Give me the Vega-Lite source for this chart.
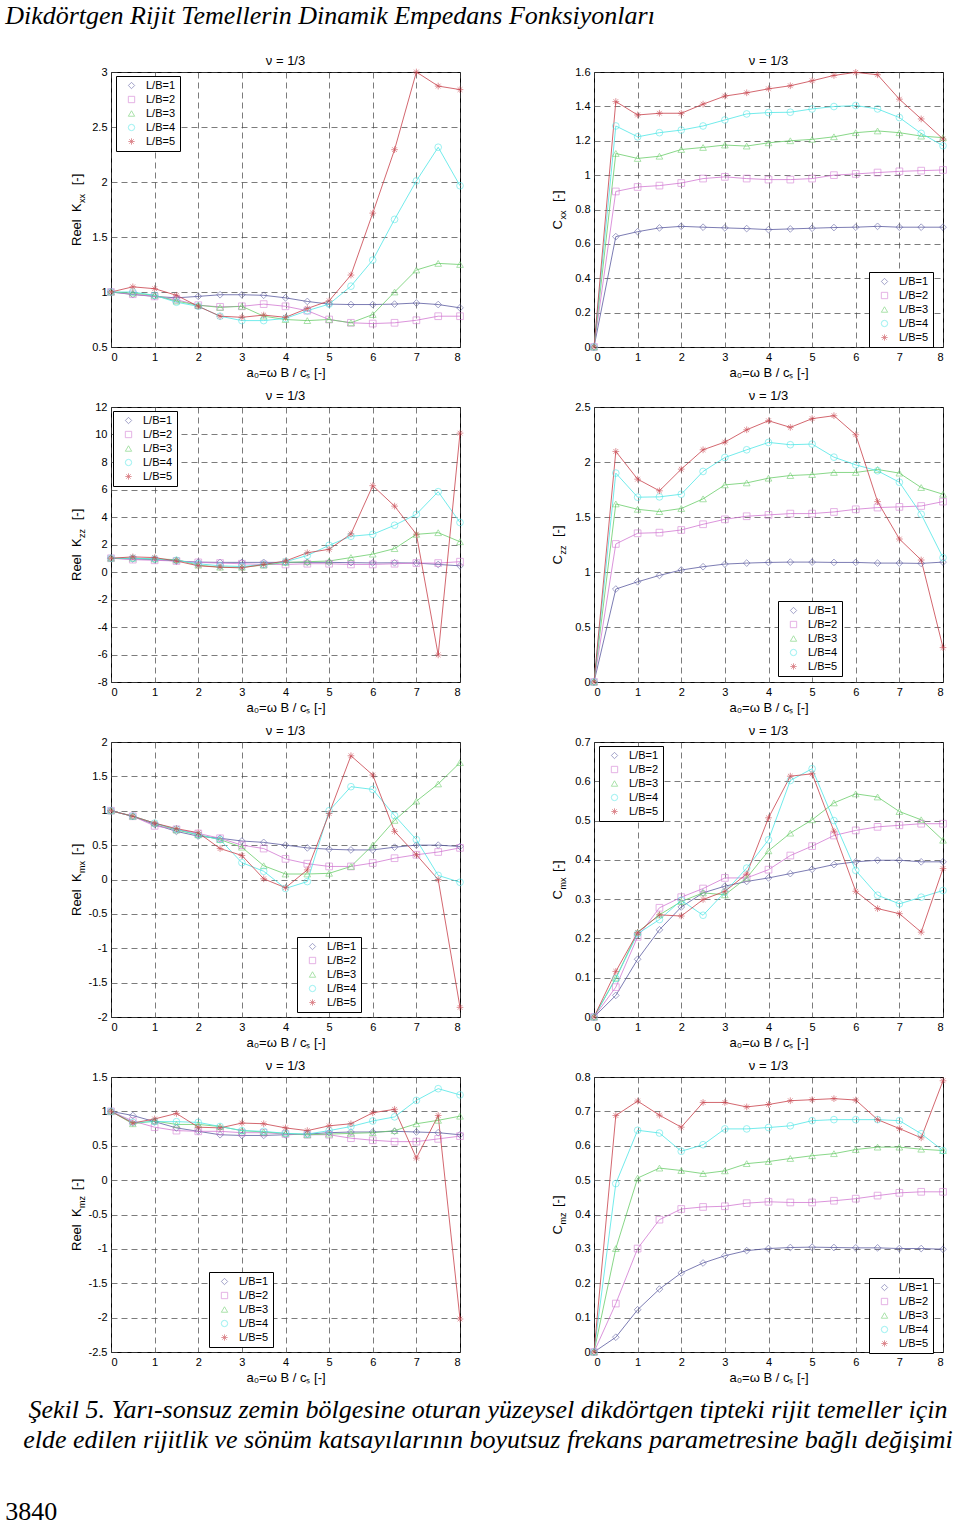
{
"$schema": "https://vega.github.io/schema/vega-lite/v6.json",
"background": "white",
"padding": {"left": 5, "top": 2, "right": 5, "bottom": 0},
"title": {"text": "Dikdörtgen Rijit Temellerin Dinamik Empedans Fonksiyonları", "font": "Liberation Serif", "fontStyle": "italic", "fontSize": 26, "fontWeight": "normal", "color": "black", "anchor": "start", "frame": "bounds", "dx": 0, "offset": 26},
"config": {
  "font": "Liberation Sans",
  "view": {"stroke": "black", "strokeWidth": 1},
  "axis": {"labelFont": "Liberation Sans", "labelFontSize": 11, "labelColor": "black", "titleFont": "Liberation Sans", "titleFontSize": 13, "titleFontWeight": "normal", "titleColor": "black", "gridColor": "#444444", "gridDash": [6, 4], "gridWidth": 0.7, "gridOpacity": 1, "domain": false, "ticks": false, "labelPadding": 4, "titlePadding": 4},
  "title": {"font": "Liberation Sans", "fontSize": 13, "fontWeight": "normal", "color": "black", "offset": -2},
  "legend": {"strokeColor": "black", "fillColor": "white", "padding": 4, "labelFont": "Liberation Sans", "labelFontSize": 11, "labelColor": "black", "symbolStrokeWidth": 0.8, "symbolSize": 40, "rowPadding": 2, "symbolOffset": 6, "labelOffset": 9, "cornerRadius": 0}
},
"datasets": {"d": [
{"p":"Kxx","a":0,"L/B=1":1,"L/B=2":1,"L/B=3":1,"L/B=4":1,"L/B=5":1},
{"p":"Kxx","a":0.5,"L/B=1":0.977,"L/B=2":0.98,"L/B=3":0.99,"L/B=4":1.0,"L/B=5":1.047},
{"p":"Kxx","a":1,"L/B=1":0.96,"L/B=2":0.96,"L/B=3":0.97,"L/B=4":0.97,"L/B=5":1.03},
{"p":"Kxx","a":1.5,"L/B=1":0.947,"L/B=2":0.93,"L/B=3":0.917,"L/B=4":0.907,"L/B=5":0.97},
{"p":"Kxx","a":2,"L/B=1":0.96,"L/B=2":0.88,"L/B=3":0.88,"L/B=4":0.87,"L/B=5":0.87},
{"p":"Kxx","a":2.5,"L/B=1":0.975,"L/B=2":0.865,"L/B=3":0.86,"L/B=4":0.78,"L/B=5":0.78},
{"p":"Kxx","a":3,"L/B=1":0.975,"L/B=2":0.87,"L/B=3":0.87,"L/B=4":0.74,"L/B=5":0.77},
{"p":"Kxx","a":3.5,"L/B=1":0.97,"L/B=2":0.89,"L/B=3":0.78,"L/B=4":0.74,"L/B=5":0.79},
{"p":"Kxx","a":4,"L/B=1":0.947,"L/B=2":0.87,"L/B=3":0.75,"L/B=4":0.76,"L/B=5":0.77},
{"p":"Kxx","a":4.5,"L/B=1":0.914,"L/B=2":0.83,"L/B=3":0.74,"L/B=4":0.83,"L/B=5":0.85},
{"p":"Kxx","a":5,"L/B=1":0.89,"L/B=2":0.75,"L/B=3":0.75,"L/B=4":0.89,"L/B=5":0.92},
{"p":"Kxx","a":5.5,"L/B=1":0.886,"L/B=2":0.72,"L/B=3":0.72,"L/B=4":1.053,"L/B=5":1.154},
{"p":"Kxx","a":6,"L/B=1":0.886,"L/B=2":0.713,"L/B=3":0.795,"L/B=4":1.29,"L/B=5":1.717},
{"p":"Kxx","a":6.5,"L/B=1":0.89,"L/B=2":0.72,"L/B=3":1.0,"L/B=4":1.66,"L/B=5":2.294},
{"p":"Kxx","a":7,"L/B=1":0.9,"L/B=2":0.743,"L/B=3":1.2,"L/B=4":2.01,"L/B=5":3.0},
{"p":"Kxx","a":7.5,"L/B=1":0.886,"L/B=2":0.78,"L/B=3":1.26,"L/B=4":2.316,"L/B=5":2.872},
{"p":"Kxx","a":8,"L/B=1":0.856,"L/B=2":0.78,"L/B=3":1.25,"L/B=4":1.966,"L/B=5":2.84},
{"p":"Cxx","a":0,"L/B=1":0,"L/B=2":0,"L/B=3":0,"L/B=4":0,"L/B=5":0},
{"p":"Cxx","a":0.5,"L/B=1":0.642,"L/B=2":0.905,"L/B=3":1.126,"L/B=4":1.286,"L/B=5":1.428},
{"p":"Cxx","a":1,"L/B=1":0.671,"L/B=2":0.931,"L/B=3":1.097,"L/B=4":1.223,"L/B=5":1.35},
{"p":"Cxx","a":1.5,"L/B=1":0.693,"L/B=2":0.939,"L/B=3":1.11,"L/B=4":1.247,"L/B=5":1.36},
{"p":"Cxx","a":2,"L/B=1":0.702,"L/B=2":0.954,"L/B=3":1.149,"L/B=4":1.262,"L/B=5":1.36},
{"p":"Cxx","a":2.5,"L/B=1":0.697,"L/B=2":0.98,"L/B=3":1.161,"L/B=4":1.286,"L/B=5":1.413},
{"p":"Cxx","a":3,"L/B=1":0.693,"L/B=2":0.99,"L/B=3":1.175,"L/B=4":1.321,"L/B=5":1.46},
{"p":"Cxx","a":3.5,"L/B=1":0.689,"L/B=2":0.98,"L/B=3":1.169,"L/B=4":1.356,"L/B=5":1.479},
{"p":"Cxx","a":4,"L/B=1":0.683,"L/B=2":0.974,"L/B=3":1.188,"L/B=4":1.364,"L/B=5":1.502},
{"p":"Cxx","a":4.5,"L/B=1":0.687,"L/B=2":0.974,"L/B=3":1.2,"L/B=4":1.366,"L/B=5":1.52},
{"p":"Cxx","a":5,"L/B=1":0.691,"L/B=2":0.98,"L/B=3":1.208,"L/B=4":1.385,"L/B=5":1.549},
{"p":"Cxx","a":5.5,"L/B=1":0.695,"L/B=2":1.0,"L/B=3":1.223,"L/B=4":1.399,"L/B=5":1.58},
{"p":"Cxx","a":6,"L/B=1":0.697,"L/B=2":1.007,"L/B=3":1.247,"L/B=4":1.405,"L/B=5":1.598},
{"p":"Cxx","a":6.5,"L/B=1":0.702,"L/B=2":1.015,"L/B=3":1.257,"L/B=4":1.385,"L/B=5":1.584},
{"p":"Cxx","a":7,"L/B=1":0.697,"L/B=2":1.022,"L/B=3":1.247,"L/B=4":1.335,"L/B=5":1.442},
{"p":"Cxx","a":7.5,"L/B=1":0.697,"L/B=2":1.026,"L/B=3":1.227,"L/B=4":1.243,"L/B=5":1.327},
{"p":"Cxx","a":8,"L/B=1":0.697,"L/B=2":1.03,"L/B=3":1.218,"L/B=4":1.171,"L/B=5":1.21},
{"p":"Kzz","a":0,"L/B=1":1,"L/B=2":1,"L/B=3":1,"L/B=4":1,"L/B=5":1},
{"p":"Kzz","a":0.5,"L/B=1":0.95,"L/B=2":0.9,"L/B=3":1.0,"L/B=4":1.0,"L/B=5":1.1},
{"p":"Kzz","a":1,"L/B=1":0.9,"L/B=2":0.85,"L/B=3":0.95,"L/B=4":0.95,"L/B=5":1.05},
{"p":"Kzz","a":1.5,"L/B=1":0.8,"L/B=2":0.8,"L/B=3":0.9,"L/B=4":0.85,"L/B=5":0.8},
{"p":"Kzz","a":2,"L/B=1":0.72,"L/B=2":0.7,"L/B=3":0.5,"L/B=4":0.6,"L/B=5":0.45},
{"p":"Kzz","a":2.5,"L/B=1":0.7,"L/B=2":0.65,"L/B=3":0.35,"L/B=4":0.45,"L/B=5":0.35},
{"p":"Kzz","a":3,"L/B=1":0.7,"L/B=2":0.6,"L/B=3":0.35,"L/B=4":0.4,"L/B=5":0.3},
{"p":"Kzz","a":3.5,"L/B=1":0.7,"L/B=2":0.55,"L/B=3":0.5,"L/B=4":0.55,"L/B=5":0.55},
{"p":"Kzz","a":4,"L/B=1":0.7,"L/B=2":0.55,"L/B=3":0.7,"L/B=4":0.75,"L/B=5":0.8},
{"p":"Kzz","a":4.5,"L/B=1":0.7,"L/B=2":0.6,"L/B=3":0.75,"L/B=4":1.2,"L/B=5":1.4},
{"p":"Kzz","a":5,"L/B=1":0.7,"L/B=2":0.6,"L/B=3":0.8,"L/B=4":1.94,"L/B=5":1.65},
{"p":"Kzz","a":5.5,"L/B=1":0.68,"L/B=2":0.55,"L/B=3":1.05,"L/B=4":2.6,"L/B=5":2.77},
{"p":"Kzz","a":6,"L/B=1":0.66,"L/B=2":0.55,"L/B=3":1.3,"L/B=4":2.74,"L/B=5":6.28},
{"p":"Kzz","a":6.5,"L/B=1":0.67,"L/B=2":0.6,"L/B=3":1.7,"L/B=4":3.4,"L/B=5":4.79},
{"p":"Kzz","a":7,"L/B=1":0.65,"L/B=2":0.65,"L/B=3":2.74,"L/B=4":4.2,"L/B=5":2.75},
{"p":"Kzz","a":7.5,"L/B=1":0.55,"L/B=2":0.65,"L/B=3":2.86,"L/B=4":5.84,"L/B=5":-6.03},
{"p":"Kzz","a":8,"L/B=1":0.45,"L/B=2":0.75,"L/B=3":2.2,"L/B=4":3.6,"L/B=5":10.1},
{"p":"Czz","a":0,"L/B=1":0,"L/B=2":0,"L/B=3":0,"L/B=4":0,"L/B=5":0},
{"p":"Czz","a":0.5,"L/B=1":0.845,"L/B=2":1.255,"L/B=3":1.619,"L/B=4":1.899,"L/B=5":2.096},
{"p":"Czz","a":1,"L/B=1":0.911,"L/B=2":1.352,"L/B=3":1.57,"L/B=4":1.68,"L/B=5":1.844},
{"p":"Czz","a":1.5,"L/B=1":0.969,"L/B=2":1.358,"L/B=3":1.549,"L/B=4":1.683,"L/B=5":1.738},
{"p":"Czz","a":2,"L/B=1":1.018,"L/B=2":1.382,"L/B=3":1.577,"L/B=4":1.707,"L/B=5":1.935},
{"p":"Czz","a":2.5,"L/B=1":1.048,"L/B=2":1.434,"L/B=3":1.665,"L/B=4":1.914,"L/B=5":2.111},
{"p":"Czz","a":3,"L/B=1":1.072,"L/B=2":1.479,"L/B=3":1.792,"L/B=4":2.041,"L/B=5":2.181},
{"p":"Czz","a":3.5,"L/B=1":1.081,"L/B=2":1.507,"L/B=3":1.81,"L/B=4":2.111,"L/B=5":2.293},
{"p":"Czz","a":4,"L/B=1":1.087,"L/B=2":1.519,"L/B=3":1.853,"L/B=4":2.178,"L/B=5":2.375},
{"p":"Czz","a":4.5,"L/B=1":1.09,"L/B=2":1.531,"L/B=3":1.877,"L/B=4":2.157,"L/B=5":2.315},
{"p":"Czz","a":5,"L/B=1":1.09,"L/B=2":1.531,"L/B=3":1.886,"L/B=4":2.163,"L/B=5":2.394},
{"p":"Czz","a":5.5,"L/B=1":1.087,"L/B=2":1.546,"L/B=3":1.905,"L/B=4":2.044,"L/B=5":2.421},
{"p":"Czz","a":6,"L/B=1":1.087,"L/B=2":1.57,"L/B=3":1.905,"L/B=4":1.974,"L/B=5":2.248},
{"p":"Czz","a":6.5,"L/B=1":1.081,"L/B=2":1.586,"L/B=3":1.932,"L/B=4":1.92,"L/B=5":1.64},
{"p":"Czz","a":7,"L/B=1":1.081,"L/B=2":1.592,"L/B=3":1.899,"L/B=4":1.816,"L/B=5":1.3},
{"p":"Czz","a":7.5,"L/B=1":1.078,"L/B=2":1.6,"L/B=3":1.768,"L/B=4":1.525,"L/B=5":1.109},
{"p":"Czz","a":8,"L/B=1":1.09,"L/B=2":1.64,"L/B=3":1.707,"L/B=4":1.13,"L/B=5":0.313},
{"p":"Kmx","a":0,"L/B=1":1,"L/B=2":1,"L/B=3":1,"L/B=4":1,"L/B=5":1},
{"p":"Kmx","a":0.5,"L/B=1":0.92,"L/B=2":0.92,"L/B=3":0.92,"L/B=4":0.92,"L/B=5":0.92},
{"p":"Kmx","a":1,"L/B=1":0.8,"L/B=2":0.78,"L/B=3":0.82,"L/B=4":0.82,"L/B=5":0.82},
{"p":"Kmx","a":1.5,"L/B=1":0.7,"L/B=2":0.73,"L/B=3":0.72,"L/B=4":0.73,"L/B=5":0.74},
{"p":"Kmx","a":2,"L/B=1":0.63,"L/B=2":0.67,"L/B=3":0.65,"L/B=4":0.65,"L/B=5":0.68},
{"p":"Kmx","a":2.5,"L/B=1":0.6,"L/B=2":0.6,"L/B=3":0.58,"L/B=4":0.58,"L/B=5":0.45},
{"p":"Kmx","a":3,"L/B=1":0.56,"L/B=2":0.5,"L/B=3":0.47,"L/B=4":0.245,"L/B=5":0.35},
{"p":"Kmx","a":3.5,"L/B=1":0.54,"L/B=2":0.45,"L/B=3":0.2,"L/B=4":0.12,"L/B=5":0.01},
{"p":"Kmx","a":4,"L/B=1":0.5,"L/B=2":0.3,"L/B=3":0.08,"L/B=4":-0.13,"L/B=5":-0.12},
{"p":"Kmx","a":4.5,"L/B=1":0.46,"L/B=2":0.23,"L/B=3":0.08,"L/B=4":-0.03,"L/B=5":0.14},
{"p":"Kmx","a":5,"L/B=1":0.44,"L/B=2":0.19,"L/B=3":0.09,"L/B=4":1.0,"L/B=5":0.96},
{"p":"Kmx","a":5.5,"L/B=1":0.43,"L/B=2":0.19,"L/B=3":0.19,"L/B=4":1.35,"L/B=5":1.8},
{"p":"Kmx","a":6,"L/B=1":0.43,"L/B=2":0.24,"L/B=3":0.5,"L/B=4":1.31,"L/B=5":1.52},
{"p":"Kmx","a":6.5,"L/B=1":0.47,"L/B=2":0.31,"L/B=3":0.86,"L/B=4":0.93,"L/B=5":0.7},
{"p":"Kmx","a":7,"L/B=1":0.5,"L/B=2":0.36,"L/B=3":1.14,"L/B=4":0.58,"L/B=5":0.36},
{"p":"Kmx","a":7.5,"L/B=1":0.5,"L/B=2":0.4,"L/B=3":1.39,"L/B=4":0.06,"L/B=5":0.0},
{"p":"Kmx","a":8,"L/B=1":0.48,"L/B=2":0.46,"L/B=3":1.7,"L/B=4":-0.04,"L/B=5":-1.86},
{"p":"Cmx","a":0,"L/B=1":0,"L/B=2":0,"L/B=3":0,"L/B=4":0,"L/B=5":0},
{"p":"Cmx","a":0.5,"L/B=1":0.055,"L/B=2":0.076,"L/B=3":0.099,"L/B=4":0.098,"L/B=5":0.116},
{"p":"Cmx","a":1,"L/B=1":0.147,"L/B=2":0.204,"L/B=3":0.216,"L/B=4":0.212,"L/B=5":0.215},
{"p":"Cmx","a":1.5,"L/B=1":0.222,"L/B=2":0.278,"L/B=3":0.26,"L/B=4":0.248,"L/B=5":0.26},
{"p":"Cmx","a":2,"L/B=1":0.28,"L/B=2":0.305,"L/B=3":0.294,"L/B=4":0.297,"L/B=5":0.257},
{"p":"Cmx","a":2.5,"L/B=1":0.316,"L/B=2":0.327,"L/B=3":0.316,"L/B=4":0.259,"L/B=5":0.299},
{"p":"Cmx","a":3,"L/B=1":0.333,"L/B=2":0.354,"L/B=3":0.311,"L/B=4":0.318,"L/B=5":0.32},
{"p":"Cmx","a":3.5,"L/B=1":0.345,"L/B=2":0.354,"L/B=3":0.354,"L/B=4":0.379,"L/B=5":0.364},
{"p":"Cmx","a":4,"L/B=1":0.354,"L/B=2":0.375,"L/B=3":0.423,"L/B=4":0.451,"L/B=5":0.507},
{"p":"Cmx","a":4.5,"L/B=1":0.365,"L/B=2":0.411,"L/B=3":0.468,"L/B=4":0.602,"L/B=5":0.613},
{"p":"Cmx","a":5,"L/B=1":0.376,"L/B=2":0.435,"L/B=3":0.502,"L/B=4":0.632,"L/B=5":0.619},
{"p":"Cmx","a":5.5,"L/B=1":0.388,"L/B=2":0.462,"L/B=3":0.545,"L/B=4":0.5,"L/B=5":0.473},
{"p":"Cmx","a":6,"L/B=1":0.395,"L/B=2":0.475,"L/B=3":0.568,"L/B=4":0.373,"L/B=5":0.32},
{"p":"Cmx","a":6.5,"L/B=1":0.399,"L/B=2":0.484,"L/B=3":0.56,"L/B=4":0.31,"L/B=5":0.276},
{"p":"Cmx","a":7,"L/B=1":0.399,"L/B=2":0.488,"L/B=3":0.523,"L/B=4":0.288,"L/B=5":0.263},
{"p":"Cmx","a":7.5,"L/B=1":0.395,"L/B=2":0.492,"L/B=3":0.502,"L/B=4":0.305,"L/B=5":0.216},
{"p":"Cmx","a":8,"L/B=1":0.395,"L/B=2":0.492,"L/B=3":0.45,"L/B=4":0.322,"L/B=5":0.378},
{"p":"Kmz","a":0,"L/B=1":1,"L/B=2":1,"L/B=3":1,"L/B=4":1,"L/B=5":1},
{"p":"Kmz","a":0.5,"L/B=1":0.94,"L/B=2":0.86,"L/B=3":0.82,"L/B=4":0.84,"L/B=5":0.83},
{"p":"Kmz","a":1,"L/B=1":0.85,"L/B=2":0.77,"L/B=3":0.86,"L/B=4":0.85,"L/B=5":0.89},
{"p":"Kmz","a":1.5,"L/B=1":0.76,"L/B=2":0.72,"L/B=3":0.81,"L/B=4":0.85,"L/B=5":0.97},
{"p":"Kmz","a":2,"L/B=1":0.71,"L/B=2":0.71,"L/B=3":0.81,"L/B=4":0.84,"L/B=5":0.77},
{"p":"Kmz","a":2.5,"L/B=1":0.66,"L/B=2":0.71,"L/B=3":0.78,"L/B=4":0.78,"L/B=5":0.76},
{"p":"Kmz","a":3,"L/B=1":0.65,"L/B=2":0.69,"L/B=3":0.72,"L/B=4":0.72,"L/B=5":0.83},
{"p":"Kmz","a":3.5,"L/B=1":0.65,"L/B=2":0.69,"L/B=3":0.7,"L/B=4":0.71,"L/B=5":0.82},
{"p":"Kmz","a":4,"L/B=1":0.66,"L/B=2":0.67,"L/B=3":0.68,"L/B=4":0.68,"L/B=5":0.76},
{"p":"Kmz","a":4.5,"L/B=1":0.67,"L/B=2":0.66,"L/B=3":0.66,"L/B=4":0.67,"L/B=5":0.72},
{"p":"Kmz","a":5,"L/B=1":0.69,"L/B=2":0.66,"L/B=3":0.67,"L/B=4":0.72,"L/B=5":0.79},
{"p":"Kmz","a":5.5,"L/B=1":0.7,"L/B=2":0.61,"L/B=3":0.68,"L/B=4":0.78,"L/B=5":0.82},
{"p":"Kmz","a":6,"L/B=1":0.7,"L/B=2":0.58,"L/B=3":0.69,"L/B=4":0.86,"L/B=5":0.98},
{"p":"Kmz","a":6.5,"L/B=1":0.71,"L/B=2":0.56,"L/B=3":0.72,"L/B=4":0.92,"L/B=5":1.03},
{"p":"Kmz","a":7,"L/B=1":0.7,"L/B=2":0.56,"L/B=3":0.82,"L/B=4":1.16,"L/B=5":0.32},
{"p":"Kmz","a":7.5,"L/B=1":0.69,"L/B=2":0.6,"L/B=3":0.87,"L/B=4":1.33,"L/B=5":0.94},
{"p":"Kmz","a":8,"L/B=1":0.66,"L/B=2":0.64,"L/B=3":0.93,"L/B=4":1.24,"L/B=5":-2.02},
{"p":"Cmz","a":0,"L/B=1":0,"L/B=2":0,"L/B=3":0,"L/B=4":0,"L/B=5":0},
{"p":"Cmz","a":0.5,"L/B=1":0.043,"L/B=2":0.141,"L/B=3":0.301,"L/B=4":0.49,"L/B=5":0.688},
{"p":"Cmz","a":1,"L/B=1":0.123,"L/B=2":0.301,"L/B=3":0.506,"L/B=4":0.645,"L/B=5":0.73},
{"p":"Cmz","a":1.5,"L/B=1":0.183,"L/B=2":0.385,"L/B=3":0.535,"L/B=4":0.637,"L/B=5":0.689},
{"p":"Cmz","a":2,"L/B=1":0.23,"L/B=2":0.416,"L/B=3":0.528,"L/B=4":0.584,"L/B=5":0.654},
{"p":"Cmz","a":2.5,"L/B=1":0.259,"L/B=2":0.422,"L/B=3":0.519,"L/B=4":0.603,"L/B=5":0.726},
{"p":"Cmz","a":3,"L/B=1":0.28,"L/B=2":0.424,"L/B=3":0.527,"L/B=4":0.649,"L/B=5":0.726},
{"p":"Cmz","a":3.5,"L/B=1":0.295,"L/B=2":0.433,"L/B=3":0.548,"L/B=4":0.649,"L/B=5":0.713},
{"p":"Cmz","a":4,"L/B=1":0.301,"L/B=2":0.437,"L/B=3":0.554,"L/B=4":0.653,"L/B=5":0.72},
{"p":"Cmz","a":4.5,"L/B=1":0.304,"L/B=2":0.435,"L/B=3":0.563,"L/B=4":0.658,"L/B=5":0.731},
{"p":"Cmz","a":5,"L/B=1":0.305,"L/B=2":0.435,"L/B=3":0.571,"L/B=4":0.673,"L/B=5":0.734},
{"p":"Cmz","a":5.5,"L/B=1":0.304,"L/B=2":0.44,"L/B=3":0.577,"L/B=4":0.676,"L/B=5":0.737},
{"p":"Cmz","a":6,"L/B=1":0.303,"L/B=2":0.446,"L/B=3":0.589,"L/B=4":0.676,"L/B=5":0.733},
{"p":"Cmz","a":6.5,"L/B=1":0.303,"L/B=2":0.455,"L/B=3":0.596,"L/B=4":0.676,"L/B=5":0.676},
{"p":"Cmz","a":7,"L/B=1":0.301,"L/B=2":0.463,"L/B=3":0.596,"L/B=4":0.673,"L/B=5":0.65},
{"p":"Cmz","a":7.5,"L/B=1":0.301,"L/B=2":0.466,"L/B=3":0.59,"L/B=4":0.635,"L/B=5":0.623},
{"p":"Cmz","a":8,"L/B=1":0.299,"L/B=2":0.466,"L/B=3":0.586,"L/B=4":0.586,"L/B=5":0.789}
]},
"vconcat": [{
 "title": {"text": "3840", "orient": "bottom", "anchor": "start", "frame": "bounds", "font": "Liberation Serif", "fontSize": 26, "fontStyle": "normal", "fontWeight": "normal", "color": "black", "offset": 46, "dx": -18},
 "vconcat": [{
  "title": {"text": ["Şekil 5. Yarı-sonsuz zemin bölgesine oturan yüzeysel dikdörtgen tipteki rijit temeller için", "elde edilen rijitlik ve sönüm katsayılarının boyutsuz frekans parametresine bağlı değişimi"], "orient": "bottom", "anchor": "middle", "frame": "bounds", "font": "Liberation Serif", "fontSize": 26, "fontStyle": "italic", "fontWeight": "normal", "color": "black", "lineHeight": 30, "offset": 12, "dx": -21},
  "columns": 2,
  "spacing": {"row": 60, "column": 134},
  "bounds": "flush",
  "resolve": {"scale": {"color": "independent", "shape": "independent"}, "legend": {"color": "independent", "shape": "independent"}},
  "concat": [
    {"width": 349, "height": 275, "title": {"text": "ν = 1/3"}, "data": {"name": "d"},
     "transform": [{"filter": "datum.p === 'Kxx'"}, {"fold": ["L/B=1","L/B=2","L/B=3","L/B=4","L/B=5"], "as": ["lb","v"]}],
     "encoding": {
      "x": {"field": "a", "type": "quantitative", "scale": {"domain": [0,8], "nice": false}, "axis": {"values": [0,1,2,3,4,5,6,7,8], "labelExpr": "datum.value + ''", "title": "a₀=ω B / cₛ [-]"}},
      "color": {"field": "lb", "type": "nominal", "scale": {"domain": ["L/B=1","L/B=2","L/B=3","L/B=4","L/B=5"], "range": ["#5a5aa0","#d278d2","#6acd6a","#4ee6e6","#c8404a"]}, "legend": {"title": null, "orient": "none", "legendX": 5, "legendY": 4}}
     },
     "layer": [
      {"mark": {"type": "line", "strokeWidth": 0.8}, "encoding": {"y": {"field": "v", "type": "quantitative", "scale": {"domain": [0.5,3], "nice": false, "zero": false}, "axis": {"orient": "left", "values": [0.5,1,1.5,2,2.5,3], "labelExpr": "datum.value + ''", "title": "Reel\u00a0\u00a0K\u00a0\u00a0\u00a0\u00a0\u00a0[-]", "titleX": -31, "titleY": 173.5, "titleAngle": -90, "titleAlign": "left", "titleBaseline": "alphabetic"}}}},
      {"mark": {"type": "point", "filled": false, "strokeWidth": 0.8, "size": 45}, "encoding": {"y": {"field": "v", "type": "quantitative", "scale": {"domain": [0.5,3], "nice": false, "zero": false}, "axis": {"orient": "left", "title": "xx", "labels": false, "ticks": false, "domain": false, "grid": false, "titleX": -27, "titleY": 130.5, "titleAngle": -90, "titleAlign": "left", "titleBaseline": "alphabetic", "titleFontSize": 9}}, "shape": {"field": "lb", "type": "nominal", "scale": {"domain": ["L/B=1","L/B=2","L/B=3","L/B=4","L/B=5"], "range": ["diamond","square","triangle-up","circle","M-1,0L1,0M0,-1L0,1M-0.7,-0.7L0.7,0.7M-0.7,0.7L0.7,-0.7"]}, "legend": {"title": null, "orient": "none", "legendX": 5, "legendY": 4}}}}
     ],
     "resolve": {"axis": {"y": "independent"}}},
    {"width": 349, "height": 275, "title": {"text": "ν = 1/3"}, "data": {"name": "d"},
     "transform": [{"filter": "datum.p === 'Cxx'"}, {"fold": ["L/B=1","L/B=2","L/B=3","L/B=4","L/B=5"], "as": ["lb","v"]}],
     "encoding": {
      "x": {"field": "a", "type": "quantitative", "scale": {"domain": [0,8], "nice": false}, "axis": {"values": [0,1,2,3,4,5,6,7,8], "labelExpr": "datum.value + ''", "title": "a₀=ω B / cₛ [-]"}},
      "color": {"field": "lb", "type": "nominal", "scale": {"domain": ["L/B=1","L/B=2","L/B=3","L/B=4","L/B=5"], "range": ["#5a5aa0","#d278d2","#6acd6a","#4ee6e6","#c8404a"]}, "legend": {"title": null, "orient": "none", "legendX": 275, "legendY": 200}}
     },
     "layer": [
      {"mark": {"type": "line", "strokeWidth": 0.8}, "encoding": {"y": {"field": "v", "type": "quantitative", "scale": {"domain": [0,1.6], "nice": false, "zero": false}, "axis": {"orient": "left", "values": [0,0.2,0.4,0.6,0.8,1,1.2,1.4,1.6], "labelExpr": "datum.value + ''", "title": "C\u00a0\u00a0\u00a0\u00a0\u00a0[-]", "titleX": -33, "titleY": 157, "titleAngle": -90, "titleAlign": "left", "titleBaseline": "alphabetic"}}}},
      {"mark": {"type": "point", "filled": false, "strokeWidth": 0.8, "size": 45}, "encoding": {"y": {"field": "v", "type": "quantitative", "scale": {"domain": [0,1.6], "nice": false, "zero": false}, "axis": {"orient": "left", "title": "xx", "labels": false, "ticks": false, "domain": false, "grid": false, "titleX": -29, "titleY": 147, "titleAngle": -90, "titleAlign": "left", "titleBaseline": "alphabetic", "titleFontSize": 9}}, "shape": {"field": "lb", "type": "nominal", "scale": {"domain": ["L/B=1","L/B=2","L/B=3","L/B=4","L/B=5"], "range": ["diamond","square","triangle-up","circle","M-1,0L1,0M0,-1L0,1M-0.7,-0.7L0.7,0.7M-0.7,0.7L0.7,-0.7"]}, "legend": {"title": null, "orient": "none", "legendX": 275, "legendY": 200}}}}
     ],
     "resolve": {"axis": {"y": "independent"}}},
    {"width": 349, "height": 275, "title": {"text": "ν = 1/3"}, "data": {"name": "d"},
     "transform": [{"filter": "datum.p === 'Kzz'"}, {"fold": ["L/B=1","L/B=2","L/B=3","L/B=4","L/B=5"], "as": ["lb","v"]}],
     "encoding": {
      "x": {"field": "a", "type": "quantitative", "scale": {"domain": [0,8], "nice": false}, "axis": {"values": [0,1,2,3,4,5,6,7,8], "labelExpr": "datum.value + ''", "title": "a₀=ω B / cₛ [-]"}},
      "color": {"field": "lb", "type": "nominal", "scale": {"domain": ["L/B=1","L/B=2","L/B=3","L/B=4","L/B=5"], "range": ["#5a5aa0","#d278d2","#6acd6a","#4ee6e6","#c8404a"]}, "legend": {"title": null, "orient": "none", "legendX": 2, "legendY": 4}}
     },
     "layer": [
      {"mark": {"type": "line", "strokeWidth": 0.8}, "encoding": {"y": {"field": "v", "type": "quantitative", "scale": {"domain": [-8,12], "nice": false, "zero": false}, "axis": {"orient": "left", "values": [-8,-6,-4,-2,0,2,4,6,8,10,12], "labelExpr": "datum.value + ''", "title": "Reel\u00a0\u00a0K\u00a0\u00a0\u00a0\u00a0\u00a0[-]", "titleX": -31, "titleY": 173.5, "titleAngle": -90, "titleAlign": "left", "titleBaseline": "alphabetic"}}}},
      {"mark": {"type": "point", "filled": false, "strokeWidth": 0.8, "size": 45}, "encoding": {"y": {"field": "v", "type": "quantitative", "scale": {"domain": [-8,12], "nice": false, "zero": false}, "axis": {"orient": "left", "title": "zz", "labels": false, "ticks": false, "domain": false, "grid": false, "titleX": -27, "titleY": 130.5, "titleAngle": -90, "titleAlign": "left", "titleBaseline": "alphabetic", "titleFontSize": 9}}, "shape": {"field": "lb", "type": "nominal", "scale": {"domain": ["L/B=1","L/B=2","L/B=3","L/B=4","L/B=5"], "range": ["diamond","square","triangle-up","circle","M-1,0L1,0M0,-1L0,1M-0.7,-0.7L0.7,0.7M-0.7,0.7L0.7,-0.7"]}, "legend": {"title": null, "orient": "none", "legendX": 2, "legendY": 4}}}}
     ],
     "resolve": {"axis": {"y": "independent"}}},
    {"width": 349, "height": 275, "title": {"text": "ν = 1/3"}, "data": {"name": "d"},
     "transform": [{"filter": "datum.p === 'Czz'"}, {"fold": ["L/B=1","L/B=2","L/B=3","L/B=4","L/B=5"], "as": ["lb","v"]}],
     "encoding": {
      "x": {"field": "a", "type": "quantitative", "scale": {"domain": [0,8], "nice": false}, "axis": {"values": [0,1,2,3,4,5,6,7,8], "labelExpr": "datum.value + ''", "title": "a₀=ω B / cₛ [-]"}},
      "color": {"field": "lb", "type": "nominal", "scale": {"domain": ["L/B=1","L/B=2","L/B=3","L/B=4","L/B=5"], "range": ["#5a5aa0","#d278d2","#6acd6a","#4ee6e6","#c8404a"]}, "legend": {"title": null, "orient": "none", "legendX": 184, "legendY": 194}}
     },
     "layer": [
      {"mark": {"type": "line", "strokeWidth": 0.8}, "encoding": {"y": {"field": "v", "type": "quantitative", "scale": {"domain": [0,2.5], "nice": false, "zero": false}, "axis": {"orient": "left", "values": [0,0.5,1,1.5,2,2.5], "labelExpr": "datum.value + ''", "title": "C\u00a0\u00a0\u00a0\u00a0\u00a0[-]", "titleX": -33, "titleY": 157, "titleAngle": -90, "titleAlign": "left", "titleBaseline": "alphabetic"}}}},
      {"mark": {"type": "point", "filled": false, "strokeWidth": 0.8, "size": 45}, "encoding": {"y": {"field": "v", "type": "quantitative", "scale": {"domain": [0,2.5], "nice": false, "zero": false}, "axis": {"orient": "left", "title": "zz", "labels": false, "ticks": false, "domain": false, "grid": false, "titleX": -29, "titleY": 147, "titleAngle": -90, "titleAlign": "left", "titleBaseline": "alphabetic", "titleFontSize": 9}}, "shape": {"field": "lb", "type": "nominal", "scale": {"domain": ["L/B=1","L/B=2","L/B=3","L/B=4","L/B=5"], "range": ["diamond","square","triangle-up","circle","M-1,0L1,0M0,-1L0,1M-0.7,-0.7L0.7,0.7M-0.7,0.7L0.7,-0.7"]}, "legend": {"title": null, "orient": "none", "legendX": 184, "legendY": 194}}}}
     ],
     "resolve": {"axis": {"y": "independent"}}},
    {"width": 349, "height": 275, "title": {"text": "ν = 1/3"}, "data": {"name": "d"},
     "transform": [{"filter": "datum.p === 'Kmx'"}, {"fold": ["L/B=1","L/B=2","L/B=3","L/B=4","L/B=5"], "as": ["lb","v"]}],
     "encoding": {
      "x": {"field": "a", "type": "quantitative", "scale": {"domain": [0,8], "nice": false}, "axis": {"values": [0,1,2,3,4,5,6,7,8], "labelExpr": "datum.value + ''", "title": "a₀=ω B / cₛ [-]"}},
      "color": {"field": "lb", "type": "nominal", "scale": {"domain": ["L/B=1","L/B=2","L/B=3","L/B=4","L/B=5"], "range": ["#5a5aa0","#d278d2","#6acd6a","#4ee6e6","#c8404a"]}, "legend": {"title": null, "orient": "none", "legendX": 186, "legendY": 195}}
     },
     "layer": [
      {"mark": {"type": "line", "strokeWidth": 0.8}, "encoding": {"y": {"field": "v", "type": "quantitative", "scale": {"domain": [-2,2], "nice": false, "zero": false}, "axis": {"orient": "left", "values": [-2,-1.5,-1,-0.5,0,0.5,1,1.5,2], "labelExpr": "datum.value + ''", "title": "Reel\u00a0\u00a0K\u00a0\u00a0\u00a0\u00a0\u00a0[-]", "titleX": -31, "titleY": 173.5, "titleAngle": -90, "titleAlign": "left", "titleBaseline": "alphabetic"}}}},
      {"mark": {"type": "point", "filled": false, "strokeWidth": 0.8, "size": 45}, "encoding": {"y": {"field": "v", "type": "quantitative", "scale": {"domain": [-2,2], "nice": false, "zero": false}, "axis": {"orient": "left", "title": "mx", "labels": false, "ticks": false, "domain": false, "grid": false, "titleX": -27, "titleY": 130.5, "titleAngle": -90, "titleAlign": "left", "titleBaseline": "alphabetic", "titleFontSize": 9}}, "shape": {"field": "lb", "type": "nominal", "scale": {"domain": ["L/B=1","L/B=2","L/B=3","L/B=4","L/B=5"], "range": ["diamond","square","triangle-up","circle","M-1,0L1,0M0,-1L0,1M-0.7,-0.7L0.7,0.7M-0.7,0.7L0.7,-0.7"]}, "legend": {"title": null, "orient": "none", "legendX": 186, "legendY": 195}}}}
     ],
     "resolve": {"axis": {"y": "independent"}}},
    {"width": 349, "height": 275, "title": {"text": "ν = 1/3"}, "data": {"name": "d"},
     "transform": [{"filter": "datum.p === 'Cmx'"}, {"fold": ["L/B=1","L/B=2","L/B=3","L/B=4","L/B=5"], "as": ["lb","v"]}],
     "encoding": {
      "x": {"field": "a", "type": "quantitative", "scale": {"domain": [0,8], "nice": false}, "axis": {"values": [0,1,2,3,4,5,6,7,8], "labelExpr": "datum.value + ''", "title": "a₀=ω B / cₛ [-]"}},
      "color": {"field": "lb", "type": "nominal", "scale": {"domain": ["L/B=1","L/B=2","L/B=3","L/B=4","L/B=5"], "range": ["#5a5aa0","#d278d2","#6acd6a","#4ee6e6","#c8404a"]}, "legend": {"title": null, "orient": "none", "legendX": 5, "legendY": 4}}
     },
     "layer": [
      {"mark": {"type": "line", "strokeWidth": 0.8}, "encoding": {"y": {"field": "v", "type": "quantitative", "scale": {"domain": [0,0.7], "nice": false, "zero": false}, "axis": {"orient": "left", "values": [0,0.1,0.2,0.3,0.4,0.5,0.6,0.7], "labelExpr": "datum.value + ''", "title": "C\u00a0\u00a0\u00a0\u00a0\u00a0[-]", "titleX": -33, "titleY": 157, "titleAngle": -90, "titleAlign": "left", "titleBaseline": "alphabetic"}}}},
      {"mark": {"type": "point", "filled": false, "strokeWidth": 0.8, "size": 45}, "encoding": {"y": {"field": "v", "type": "quantitative", "scale": {"domain": [0,0.7], "nice": false, "zero": false}, "axis": {"orient": "left", "title": "mx", "labels": false, "ticks": false, "domain": false, "grid": false, "titleX": -29, "titleY": 147, "titleAngle": -90, "titleAlign": "left", "titleBaseline": "alphabetic", "titleFontSize": 9}}, "shape": {"field": "lb", "type": "nominal", "scale": {"domain": ["L/B=1","L/B=2","L/B=3","L/B=4","L/B=5"], "range": ["diamond","square","triangle-up","circle","M-1,0L1,0M0,-1L0,1M-0.7,-0.7L0.7,0.7M-0.7,0.7L0.7,-0.7"]}, "legend": {"title": null, "orient": "none", "legendX": 5, "legendY": 4}}}}
     ],
     "resolve": {"axis": {"y": "independent"}}},
    {"width": 349, "height": 275, "title": {"text": "ν = 1/3"}, "data": {"name": "d"},
     "transform": [{"filter": "datum.p === 'Kmz'"}, {"fold": ["L/B=1","L/B=2","L/B=3","L/B=4","L/B=5"], "as": ["lb","v"]}],
     "encoding": {
      "x": {"field": "a", "type": "quantitative", "scale": {"domain": [0,8], "nice": false}, "axis": {"values": [0,1,2,3,4,5,6,7,8], "labelExpr": "datum.value + ''", "title": "a₀=ω B / cₛ [-]"}},
      "color": {"field": "lb", "type": "nominal", "scale": {"domain": ["L/B=1","L/B=2","L/B=3","L/B=4","L/B=5"], "range": ["#5a5aa0","#d278d2","#6acd6a","#4ee6e6","#c8404a"]}, "legend": {"title": null, "orient": "none", "legendX": 98, "legendY": 195}}
     },
     "layer": [
      {"mark": {"type": "line", "strokeWidth": 0.8}, "encoding": {"y": {"field": "v", "type": "quantitative", "scale": {"domain": [-2.5,1.5], "nice": false, "zero": false}, "axis": {"orient": "left", "values": [-2.5,-2,-1.5,-1,-0.5,0,0.5,1,1.5], "labelExpr": "datum.value + ''", "title": "Reel\u00a0\u00a0K\u00a0\u00a0\u00a0\u00a0\u00a0[-]", "titleX": -31, "titleY": 173.5, "titleAngle": -90, "titleAlign": "left", "titleBaseline": "alphabetic"}}}},
      {"mark": {"type": "point", "filled": false, "strokeWidth": 0.8, "size": 45}, "encoding": {"y": {"field": "v", "type": "quantitative", "scale": {"domain": [-2.5,1.5], "nice": false, "zero": false}, "axis": {"orient": "left", "title": "mz", "labels": false, "ticks": false, "domain": false, "grid": false, "titleX": -27, "titleY": 130.5, "titleAngle": -90, "titleAlign": "left", "titleBaseline": "alphabetic", "titleFontSize": 9}}, "shape": {"field": "lb", "type": "nominal", "scale": {"domain": ["L/B=1","L/B=2","L/B=3","L/B=4","L/B=5"], "range": ["diamond","square","triangle-up","circle","M-1,0L1,0M0,-1L0,1M-0.7,-0.7L0.7,0.7M-0.7,0.7L0.7,-0.7"]}, "legend": {"title": null, "orient": "none", "legendX": 98, "legendY": 195}}}}
     ],
     "resolve": {"axis": {"y": "independent"}}},
    {"width": 349, "height": 275, "title": {"text": "ν = 1/3"}, "data": {"name": "d"},
     "transform": [{"filter": "datum.p === 'Cmz'"}, {"fold": ["L/B=1","L/B=2","L/B=3","L/B=4","L/B=5"], "as": ["lb","v"]}],
     "encoding": {
      "x": {"field": "a", "type": "quantitative", "scale": {"domain": [0,8], "nice": false}, "axis": {"values": [0,1,2,3,4,5,6,7,8], "labelExpr": "datum.value + ''", "title": "a₀=ω B / cₛ [-]"}},
      "color": {"field": "lb", "type": "nominal", "scale": {"domain": ["L/B=1","L/B=2","L/B=3","L/B=4","L/B=5"], "range": ["#5a5aa0","#d278d2","#6acd6a","#4ee6e6","#c8404a"]}, "legend": {"title": null, "orient": "none", "legendX": 275, "legendY": 201}}
     },
     "layer": [
      {"mark": {"type": "line", "strokeWidth": 0.8}, "encoding": {"y": {"field": "v", "type": "quantitative", "scale": {"domain": [0,0.8], "nice": false, "zero": false}, "axis": {"orient": "left", "values": [0,0.1,0.2,0.3,0.4,0.5,0.6,0.7,0.8], "labelExpr": "datum.value + ''", "title": "C\u00a0\u00a0\u00a0\u00a0\u00a0[-]", "titleX": -33, "titleY": 157, "titleAngle": -90, "titleAlign": "left", "titleBaseline": "alphabetic"}}}},
      {"mark": {"type": "point", "filled": false, "strokeWidth": 0.8, "size": 45}, "encoding": {"y": {"field": "v", "type": "quantitative", "scale": {"domain": [0,0.8], "nice": false, "zero": false}, "axis": {"orient": "left", "title": "mz", "labels": false, "ticks": false, "domain": false, "grid": false, "titleX": -29, "titleY": 147, "titleAngle": -90, "titleAlign": "left", "titleBaseline": "alphabetic", "titleFontSize": 9}}, "shape": {"field": "lb", "type": "nominal", "scale": {"domain": ["L/B=1","L/B=2","L/B=3","L/B=4","L/B=5"], "range": ["diamond","square","triangle-up","circle","M-1,0L1,0M0,-1L0,1M-0.7,-0.7L0.7,0.7M-0.7,0.7L0.7,-0.7"]}, "legend": {"title": null, "orient": "none", "legendX": 275, "legendY": 201}}}}
     ],
     "resolve": {"axis": {"y": "independent"}}}
  ]
 }]
}]
}
